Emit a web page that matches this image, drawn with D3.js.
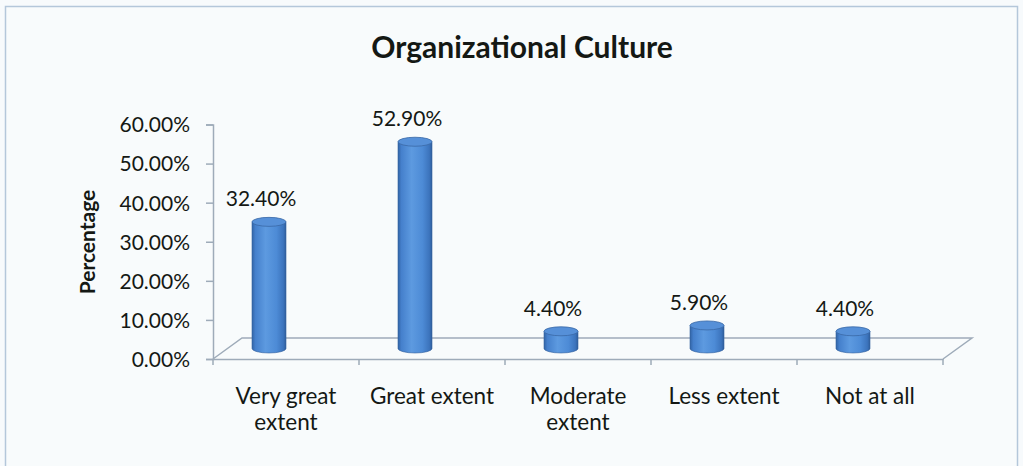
<!DOCTYPE html>
<html>
<head>
<meta charset="utf-8">
<script src="https://cdn.jsdelivr.net/npm/d3@7/dist/d3.min.js"></script>
<style>
  html, body { margin: 0; padding: 0; background: #f7fafc; }
  svg { display: block; }
  text { font-family: Lato, "Open Sans", sans-serif; fill: #141814; }
</style>
</head>
<body>
<svg id="chart" width="1023" height="466"></svg>
<script>
const title = "Organizational Culture";
const yTitle = "Percentage";
const categories = ["Very great\nextent", "Great extent", "Moderate\nextent", "Less extent", "Not at all"];
const values = [32.4, 52.9, 4.4, 5.9, 4.4];
const valueLabels = ["32.40%", "52.90%", "4.40%", "5.90%", "4.40%"];
const yTicks = [0, 10, 20, 30, 40, 50, 60];
const yTickLabels = ["0.00%", "10.00%", "20.00%", "30.00%", "40.00%", "50.00%", "60.00%"];

const svg = d3.select("#chart");

// frame
svg.append("rect").attr("x", 5.5).attr("y", 6.5).attr("width", 1012).attr("height", 470)
  .attr("fill", "#f8fbfc").attr("stroke", "#b4c7da").attr("stroke-width", 1.5);

const x0 = 213, x1 = 943;
const depthX = 29, depthY = -21;
const x = d3.scaleBand().domain(categories).range([x0, x1]).padding(0);
const y = d3.scaleLinear().domain([0, 60]).range([359, 124.5]);

const axisColor = "#9eabb9";

// floor (3D base)
const floor = d3.path();
floor.moveTo(x0, y(0));
floor.lineTo(x0 + depthX, y(0) + depthY);
floor.lineTo(x1 + depthX, y(0) + depthY);
floor.lineTo(x1, y(0));
svg.append("path").attr("d", floor.toString()).attr("fill", "none")
  .attr("stroke", axisColor).attr("stroke-width", 1.5);

// y axis
const yAxis = d3.axisLeft(y).tickValues(yTicks).tickSize(7).tickPadding(16)
  .tickFormat((d, i) => yTickLabels[i]);
const gy = svg.append("g").attr("transform", `translate(${x0},0)`).call(yAxis);
gy.select(".domain").attr("stroke", axisColor).attr("stroke-width", 1.5);
gy.selectAll(".tick line").attr("stroke", axisColor).attr("stroke-width", 1.5);
gy.selectAll(".tick text").attr("font-size", 21).attr("fill", "#141a14")
  .style("font-family", "Lato, 'Open Sans', sans-serif").attr("dy", "0.35em");

// x axis
const xAxis = d3.axisBottom(x).tickSize(0).tickFormat("");
const gx = svg.append("g").attr("transform", `translate(0,${y(0)})`).call(xAxis);
gx.select(".domain").attr("stroke", axisColor).attr("stroke-width", 1.5);
const bounds = categories.map(c => x(c)).concat([x1]);
gx.selectAll("line.bnd").data(bounds).enter().append("line").attr("class", "bnd")
  .attr("x1", d => d).attr("x2", d => d).attr("y1", 0).attr("y2", 6)
  .attr("stroke", axisColor).attr("stroke-width", 1.5);

// category labels
categories.forEach(c => {
  const lines = c.split("\n");
  const t = svg.append("text").attr("text-anchor", "middle")
    .attr("font-size", 22.5).attr("x", x(c) + x.bandwidth() / 2).attr("y", 404);
  lines.forEach((ln, i) => {
    t.append("tspan").attr("x", x(c) + x.bandwidth() / 2).attr("dy", i === 0 ? 0 : 26).text(ln);
  });
});

// gradient for cylinders
const defs = svg.append("defs");
const grad = defs.append("linearGradient").attr("id", "cyl").attr("x1", "0%").attr("x2", "100%").attr("y1", "0%").attr("y2", "0%");
[["0%", "#3264a6"], ["10%", "#4580cc"], ["40%", "#5d9ae0"], ["72%", "#4d8bd6"], ["92%", "#3c74bd"], ["100%", "#2f5e9c"]]
  .forEach(([o, c]) => grad.append("stop").attr("offset", o).attr("stop-color", c));

const rx = 17, ry = 4.5;
const barShift = -17;
const midDepth = depthY / 2;

const bars = svg.append("g");
categories.forEach((c, i) => {
  const cx = x(c) + x.bandwidth() / 2 + barShift;
  const base = y(0) + midDepth;
  const top = y(values[i]) + midDepth;
  bars.append("path")
    .attr("d", `M${cx - rx},${top} L${cx - rx},${base} A${rx},${ry} 0 0 0 ${cx + rx},${base} L${cx + rx},${top} Z`)
    .attr("fill", "url(#cyl)").attr("stroke", "#34619e").attr("stroke-width", 0.6);
  bars.append("ellipse").attr("cx", cx).attr("cy", top).attr("rx", rx).attr("ry", ry)
    .attr("fill", "#5690d8").attr("stroke", "#3a68a6").attr("stroke-width", 0.8);
  svg.append("text").attr("text-anchor", "middle").attr("font-size", 21)
    .attr("x", cx - 8).attr("y", top - ry - 11).text(valueLabels[i]);
});

// titles
svg.append("text").attr("x", 522).attr("y", 58).attr("text-anchor", "middle")
  .attr("font-size", 30).attr("font-weight", "bold").text(title);
svg.append("text").attr("transform", `translate(95,242) rotate(-90)`).attr("text-anchor", "middle")
  .attr("font-size", 21).attr("font-weight", "bold").text(yTitle);
</script>
</body>
</html>
